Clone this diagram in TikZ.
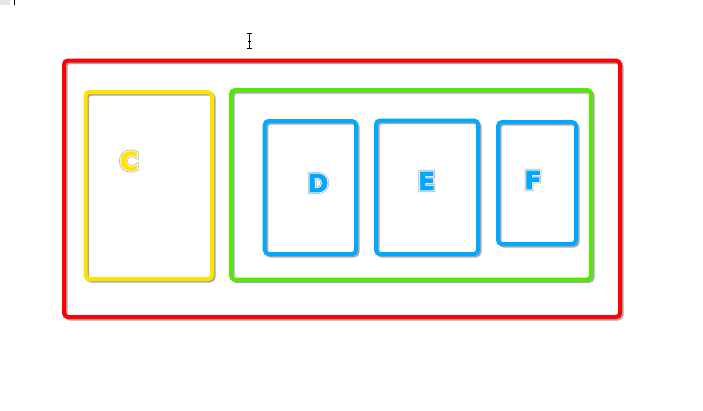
\documentclass[tikz,border=0pt]{standalone}
\usepackage{fontspec}
\usetikzlibrary{backgrounds}
\newfontfamily\lblfill{DejaVu Sans Bold}[FakeBold=3]
\newfontfamily\lblwhite{DejaVu Sans Bold}[FakeBold=10]
\newfontfamily\lblgrey{DejaVu Sans Bold}[FakeBold=16]
\definecolor{cred}{HTML}{FF0000}
\definecolor{cyellow}{HTML}{FFE400}
\definecolor{cgreen}{HTML}{52E800}
\definecolor{cblue}{HTML}{00A8FF}
\definecolor{shadowgrey}{HTML}{A8A8A8}
\definecolor{olgrey}{HTML}{B4B4B4}
\definecolor{tabgrey}{HTML}{E6E6E6}
\newcommand\outlined[2]{\fontsize{25}{25}\selectfont\rlap{\lblgrey\color{olgrey}#2}\rlap{\lblwhite\color{white}#2}{\lblfill\color{#1}#2}}
\tikzset{
  box/.style={draw=#1, line width=4pt, rounded corners=4pt, inner sep=0pt, outer sep=0pt},
  boxshadow/.style={draw=shadowgrey, line width=3.5pt, rounded corners=4pt},
  letter/.style={inner sep=0pt, outer sep=0pt},
  cursorline/.style={draw=black, line width=1pt}
}
\begin{document}
\begin{tikzpicture}[x=1pt,y=-1pt]
\useasboundingbox (0,0) rectangle (703,410);
% boxes
\node[box=cred, minimum width=556pt, minimum height=256.5pt] (outer) at (342,188.75) {};
\node[box=cyellow, minimum width=126.5pt, minimum height=187pt] (ybox) at (148.75,185.5) {};
\node[box=cgreen, minimum width=360pt, minimum height=189.5pt] (gbox) at (411,184.75) {};
\node[box=cblue, minimum width=91.3pt, minimum height=133pt] (dbox) at (310.35,187.5) {};
\node[box=cblue, minimum width=102pt, minimum height=133.5pt] (ebox) at (427,187.25) {};
\node[box=cblue, minimum width=78pt, minimum height=122pt] (fbox) at (537,183) {};
% shadows (behind)
\begin{scope}[on background layer]
\foreach \b in {outer,ybox,gbox,dbox,ebox,fbox}{
  \draw[boxshadow] ([shift={(1.8,1.8)}]\b.north west) rectangle ([shift={(1.8,1.8)}]\b.south east);
}
\end{scope}
% letters
\node[letter] (c) at (129,161) {\outlined{cyellow}{C}};
\node[letter] (d) at (318,183) {\outlined{cblue}{D}};
\node[letter] (e) at (426.5,181) {\outlined{cblue}{E}};
\node[letter] (f) at (533,180) {\outlined{cblue}{F}};
% cursor
\coordinate (curtop) at (249.5,33.5);
\coordinate (curbot) at (249.5,48);
\draw[cursorline] (curtop) -- (curbot);
\draw[cursorline] ([xshift=-2.5]curtop) -- ([xshift=2.5]curtop);
\draw[cursorline] ([xshift=-2.5]curbot) -- ([xshift=2.5]curbot);
\coordinate (curmid) at (249.5,41);
\draw[cursorline] ([xshift=-1.5]curmid) -- ([xshift=1.5]curmid);
% top-left marks
\fill[tabgrey] (0,0) rectangle (10,5);
\coordinate (tickt) at (14.5,0);
\coordinate (tickb) at (14.5,5);
\draw[cursorline] (tickt) -- (tickb);
\end{tikzpicture}
\end{document}
